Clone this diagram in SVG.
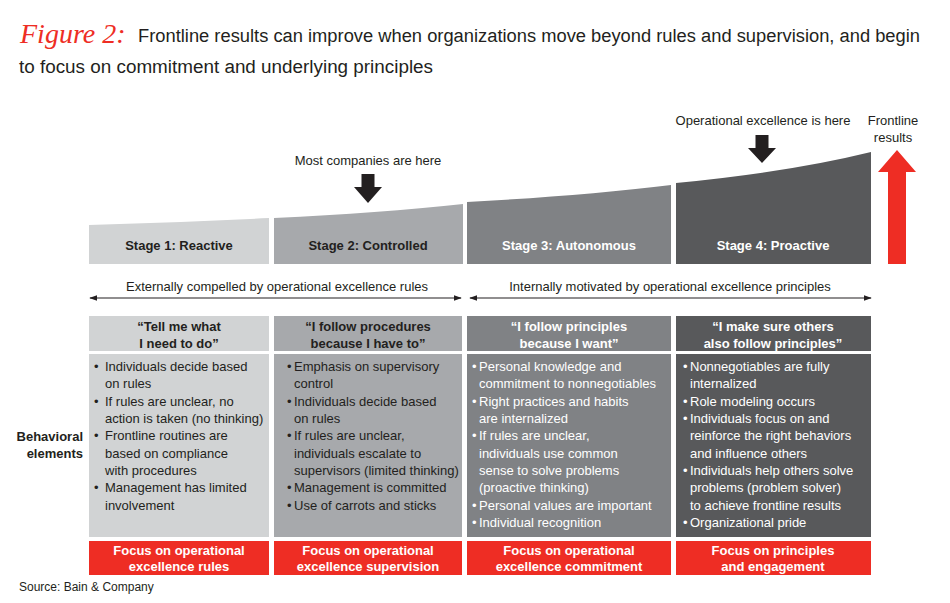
<svg xmlns="http://www.w3.org/2000/svg" width="950" height="603" viewBox="0 0 950 603">
<style>
  text { font-family: "Liberation Sans", Arial, sans-serif; fill: #231f20; }
  .title { font-size: 18px; }
  .fig { font-family: "Liberation Serif", "Times New Roman", serif; font-style: italic; font-size: 28px; fill: #ee2d24; }
  .lbl { font-size: 13px; }
  .b { font-size: 13px; font-weight: bold; }
  .c { text-anchor: middle; }
  .w { fill: #ffffff; }
  .body { font-size: 13px; }
  .s1 { fill: #d1d3d4; }
  .s2 { fill: #a7a9ac; }
  .s3 { fill: #808285; }
  .s4 { fill: #58595b; }
  .red { fill: #ee2d24; }
  .blk { fill: #231f20; }
  .line { stroke: #231f20; stroke-width: 1.2; fill: none; }
</style>
<defs>
  <marker id="ah" viewBox="0 0 10 10" refX="9" refY="5" markerWidth="8" markerHeight="8" markerUnits="userSpaceOnUse" orient="auto-start-reverse">
    <path d="M0,1.5 L10,5 L0,8.5 Z" fill="#231f20"/>
  </marker>
</defs>
<rect width="950" height="603" fill="#ffffff"/>

<g id="title">
  <text x="20" y="43" class="fig">Figure 2:</text>
  <text x="138" y="42" class="title" textLength="782" lengthAdjust="spacingAndGlyphs">Frontline results can improve when organizations move beyond rules and supervision, and begin</text>
  <text x="19" y="73" class="title" textLength="414" lengthAdjust="spacingAndGlyphs">to focus on commitment and underlying principles</text>
</g>

<g id="label-most">
  <text x="368" y="165" class="lbl c">Most companies are here</text>
</g>
<g id="label-opex">
  <text x="763" y="125" class="lbl c">Operational excellence is here</text>
</g>
<g id="label-frontline">
  <text x="893" y="125" class="lbl c">Frontline</text>
  <text x="893" y="142" class="lbl c">results</text>
</g>

<g id="stage1">
  <path class="s1" d="M89,264 L89,225 Q180,222.5 269,218 L269,264 Z"/>
  <text x="179" y="250" class="b c">Stage 1: Reactive</text>
  <rect class="s1" x="89" y="316" width="180" height="35"/>
  <text x="179" y="331" class="b c">“Tell me what</text>
  <text x="179" y="348" class="b c">I need to do”</text>
  <rect class="s1" x="89" y="354" width="180" height="183"/>
  <g class="body">
    <text x="94" y="371" class="body">•</text>
    <text x="105" y="371" class="body">Individuals decide based</text>
    <text x="105" y="388" class="body">on rules</text>
    <text x="94" y="406" class="body">•</text>
    <text x="105" y="406" class="body">If rules are unclear, no</text>
    <text x="105" y="423" class="body">action is taken (no thinking)</text>
    <text x="94" y="440" class="body">•</text>
    <text x="105" y="440" class="body">Frontline routines are</text>
    <text x="105" y="458" class="body">based on compliance</text>
    <text x="105" y="475" class="body">with procedures</text>
    <text x="94" y="492" class="body">•</text>
    <text x="105" y="492" class="body">Management has limited</text>
    <text x="105" y="510" class="body">involvement</text>
  </g>
  <rect class="red" x="89" y="541" width="180" height="34"/>
  <text x="179" y="555" class="b c w">Focus on operational</text>
  <text x="179" y="571" class="b c w">excellence rules</text>
</g>

<g id="stage2">
  <path class="s2" d="M274,264 L274,218 Q380,213 463,204 L463,264 Z"/>
  <text x="368" y="250" class="b c">Stage 2: Controlled</text>
  <rect class="s2" x="274" y="316" width="188" height="35"/>
  <text x="368" y="331" class="b c">“I follow procedures</text>
  <text x="368" y="348" class="b c">because I have to”</text>
  <rect class="s2" x="274" y="354" width="188" height="183"/>
  <g>
    <text x="287" y="371" class="body">•</text>
    <text x="294" y="371" class="body">Emphasis on supervisory</text>
    <text x="294" y="388" class="body">control</text>
    <text x="287" y="406" class="body">•</text>
    <text x="294" y="406" class="body">Individuals decide based</text>
    <text x="294" y="423" class="body">on rules</text>
    <text x="287" y="440" class="body">•</text>
    <text x="294" y="440" class="body">If rules are unclear,</text>
    <text x="294" y="458" class="body">individuals escalate to</text>
    <text x="294" y="475" class="body">supervisors (limited thinking)</text>
    <text x="287" y="492" class="body">•</text>
    <text x="294" y="492" class="body">Management is committed</text>
    <text x="287" y="510" class="body">•</text>
    <text x="294" y="510" class="body">Use of carrots and sticks</text>
  </g>
  <rect class="red" x="274" y="541" width="188" height="34"/>
  <text x="368" y="555" class="b c w">Focus on operational</text>
  <text x="368" y="571" class="b c w">excellence supervision</text>
</g>

<g id="stage3">
  <path class="s3" d="M467,264 L467,202 Q580,196 671,185 L671,264 Z"/>
  <text x="569" y="250" class="b c w">Stage 3: Autonomous</text>
  <rect class="s3" x="467" y="316" width="204" height="35"/>
  <text x="569" y="331" class="b c w">“I follow principles</text>
  <text x="569" y="348" class="b c w">because I want”</text>
  <rect class="s3" x="467" y="354" width="204" height="183"/>
  <g>
    <text x="472" y="371" class="body w">•</text>
    <text x="479" y="371" class="body w">Personal knowledge and</text>
    <text x="479" y="388" class="body w">commitment to nonnegotiables</text>
    <text x="472" y="406" class="body w">•</text>
    <text x="479" y="406" class="body w">Right practices and habits</text>
    <text x="479" y="423" class="body w">are internalized</text>
    <text x="472" y="440" class="body w">•</text>
    <text x="479" y="440" class="body w">If rules are unclear,</text>
    <text x="479" y="458" class="body w">individuals use common</text>
    <text x="479" y="475" class="body w">sense to solve problems</text>
    <text x="479" y="492" class="body w">(proactive thinking)</text>
    <text x="472" y="510" class="body w">•</text>
    <text x="479" y="510" class="body w">Personal values are important</text>
    <text x="472" y="527" class="body w">•</text>
    <text x="479" y="527" class="body w">Individual recognition</text>
  </g>
  <rect class="red" x="467" y="541" width="204" height="34"/>
  <text x="569" y="555" class="b c w">Focus on operational</text>
  <text x="569" y="571" class="b c w">excellence commitment</text>
</g>

<g id="stage4">
  <path class="s4" d="M676,264 L676,183 Q790,172 871,152 L871,264 Z"/>
  <text x="773" y="250" class="b c w">Stage 4: Proactive</text>
  <rect class="s4" x="676" y="316" width="195" height="35"/>
  <text x="773" y="331" class="b c w">“I make sure others</text>
  <text x="773" y="348" class="b c w">also follow principles”</text>
  <rect class="s4" x="676" y="354" width="195" height="183"/>
  <g>
    <text x="683" y="371" class="body w">•</text>
    <text x="690" y="371" class="body w">Nonnegotiables are fully</text>
    <text x="690" y="388" class="body w">internalized</text>
    <text x="683" y="406" class="body w">•</text>
    <text x="690" y="406" class="body w">Role modeling occurs</text>
    <text x="683" y="423" class="body w">•</text>
    <text x="690" y="423" class="body w">Individuals focus on and</text>
    <text x="690" y="440" class="body w">reinforce the right behaviors</text>
    <text x="690" y="458" class="body w">and influence others</text>
    <text x="683" y="475" class="body w">•</text>
    <text x="690" y="475" class="body w">Individuals help others solve</text>
    <text x="690" y="492" class="body w">problems (problem solver)</text>
    <text x="690" y="510" class="body w">to achieve frontline results</text>
    <text x="683" y="527" class="body w">•</text>
    <text x="690" y="527" class="body w">Organizational pride</text>
  </g>
  <rect class="red" x="676" y="541" width="195" height="34"/>
  <text x="773" y="555" class="b c w">Focus on principles</text>
  <text x="773" y="571" class="b c w">and engagement</text>
</g>

<g id="behavioral-label">
  <text x="83" y="441" class="b" text-anchor="end">Behavioral</text>
  <text x="83" y="458" class="b" text-anchor="end">elements</text>
</g>

<g id="motivation-labels">
  <text x="277" y="291" class="lbl c">Externally compelled by operational excellence rules</text>
  <text x="670" y="291" class="lbl c">Internally motivated by operational excellence principles</text>
</g>

<g id="connectors">
  <line class="line" x1="90" y1="298" x2="461" y2="298" marker-start="url(#ah)" marker-end="url(#ah)"/>
  <line class="line" x1="470" y1="298" x2="871" y2="298" marker-start="url(#ah)" marker-end="url(#ah)"/>
  <polygon class="blk" points="361.5,174 374.5,174 374.5,187 382,187 368,203 354,187 361.5,187"/>
  <polygon class="blk" points="755.5,135 768.5,135 768.5,148 776,148 762,163 748,148 755.5,148"/>
  <polygon class="red" points="897,150 916,172 906,172 906,264 888,264 888,172 878,172"/>
</g>

<g id="source">
  <text x="19" y="591" font-size="12">Source: Bain &amp; Company</text>
</g>
</svg>
